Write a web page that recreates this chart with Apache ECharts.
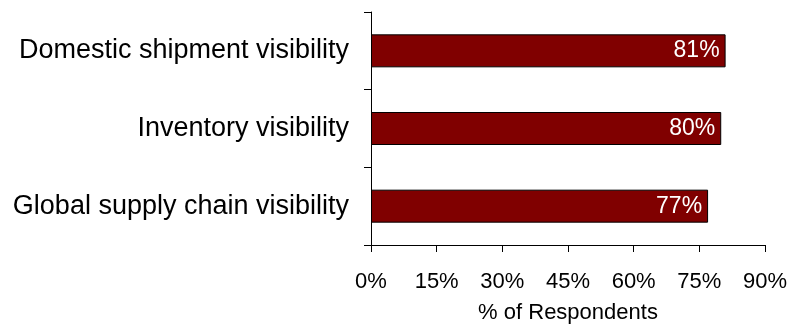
<!DOCTYPE html>
<html><head><meta charset="utf-8">
<script src="https://cdn.jsdelivr.net/npm/echarts@6/dist/echarts.min.js"></script>
<style>html,body{margin:0;padding:0;background:#fff}#c{width:790px;height:325px}</style>
</head><body><div id="c"></div>
<script>
const categories = ["Global supply chain visibility", "Inventory visibility", "Domestic shipment visibility"];
const values = [77, 80, 81];
const xTicks = [0, 15, 30, 45, 60, 75, 90];

const chart = echarts.init(document.getElementById('c'), null, {renderer: 'canvas'});
const font = '"Liberation Sans", Arial, sans-serif';
chart.setOption({
  animation: false,
  grid: {left: 371, right: 25, top: 12, bottom: 80, containLabel: false, outerBoundsMode: 'none'},
  xAxis: {
    type: 'value', min: xTicks[0], max: xTicks[xTicks.length - 1], interval: 15,
    name: '% of Respondents', nameLocation: 'middle', nameGap: 57,
    nameTextStyle: {fontFamily: font, fontSize: 22, color: '#000'},
    axisLine: {show: true, lineStyle: {color: '#000', width: 1}},
    axisTick: {show: true, length: 7, lineStyle: {color: '#000'}},
    axisLabel: {fontFamily: font, fontSize: 22, color: '#000', margin: 26, formatter: v => v + '%'},
    splitLine: {show: false}
  },
  yAxis: {
    type: 'category', data: categories,
    axisLine: {show: true, lineStyle: {color: '#000', width: 1}},
    axisTick: {show: true, length: 7, lineStyle: {color: '#000'}},
    axisLabel: {fontFamily: font, fontSize: 27, color: '#000', margin: 22}
  },
  series: [{
    type: 'bar', data: values, barWidth: 33,
    itemStyle: {color: '#800000', borderColor: '#000', borderWidth: 1},
    label: {show: true, position: 'insideRight', distance: 6, color: '#fff', fontFamily: font, fontSize: 23, formatter: p => p.value + '%'}
  }]
});
</script></body></html>
